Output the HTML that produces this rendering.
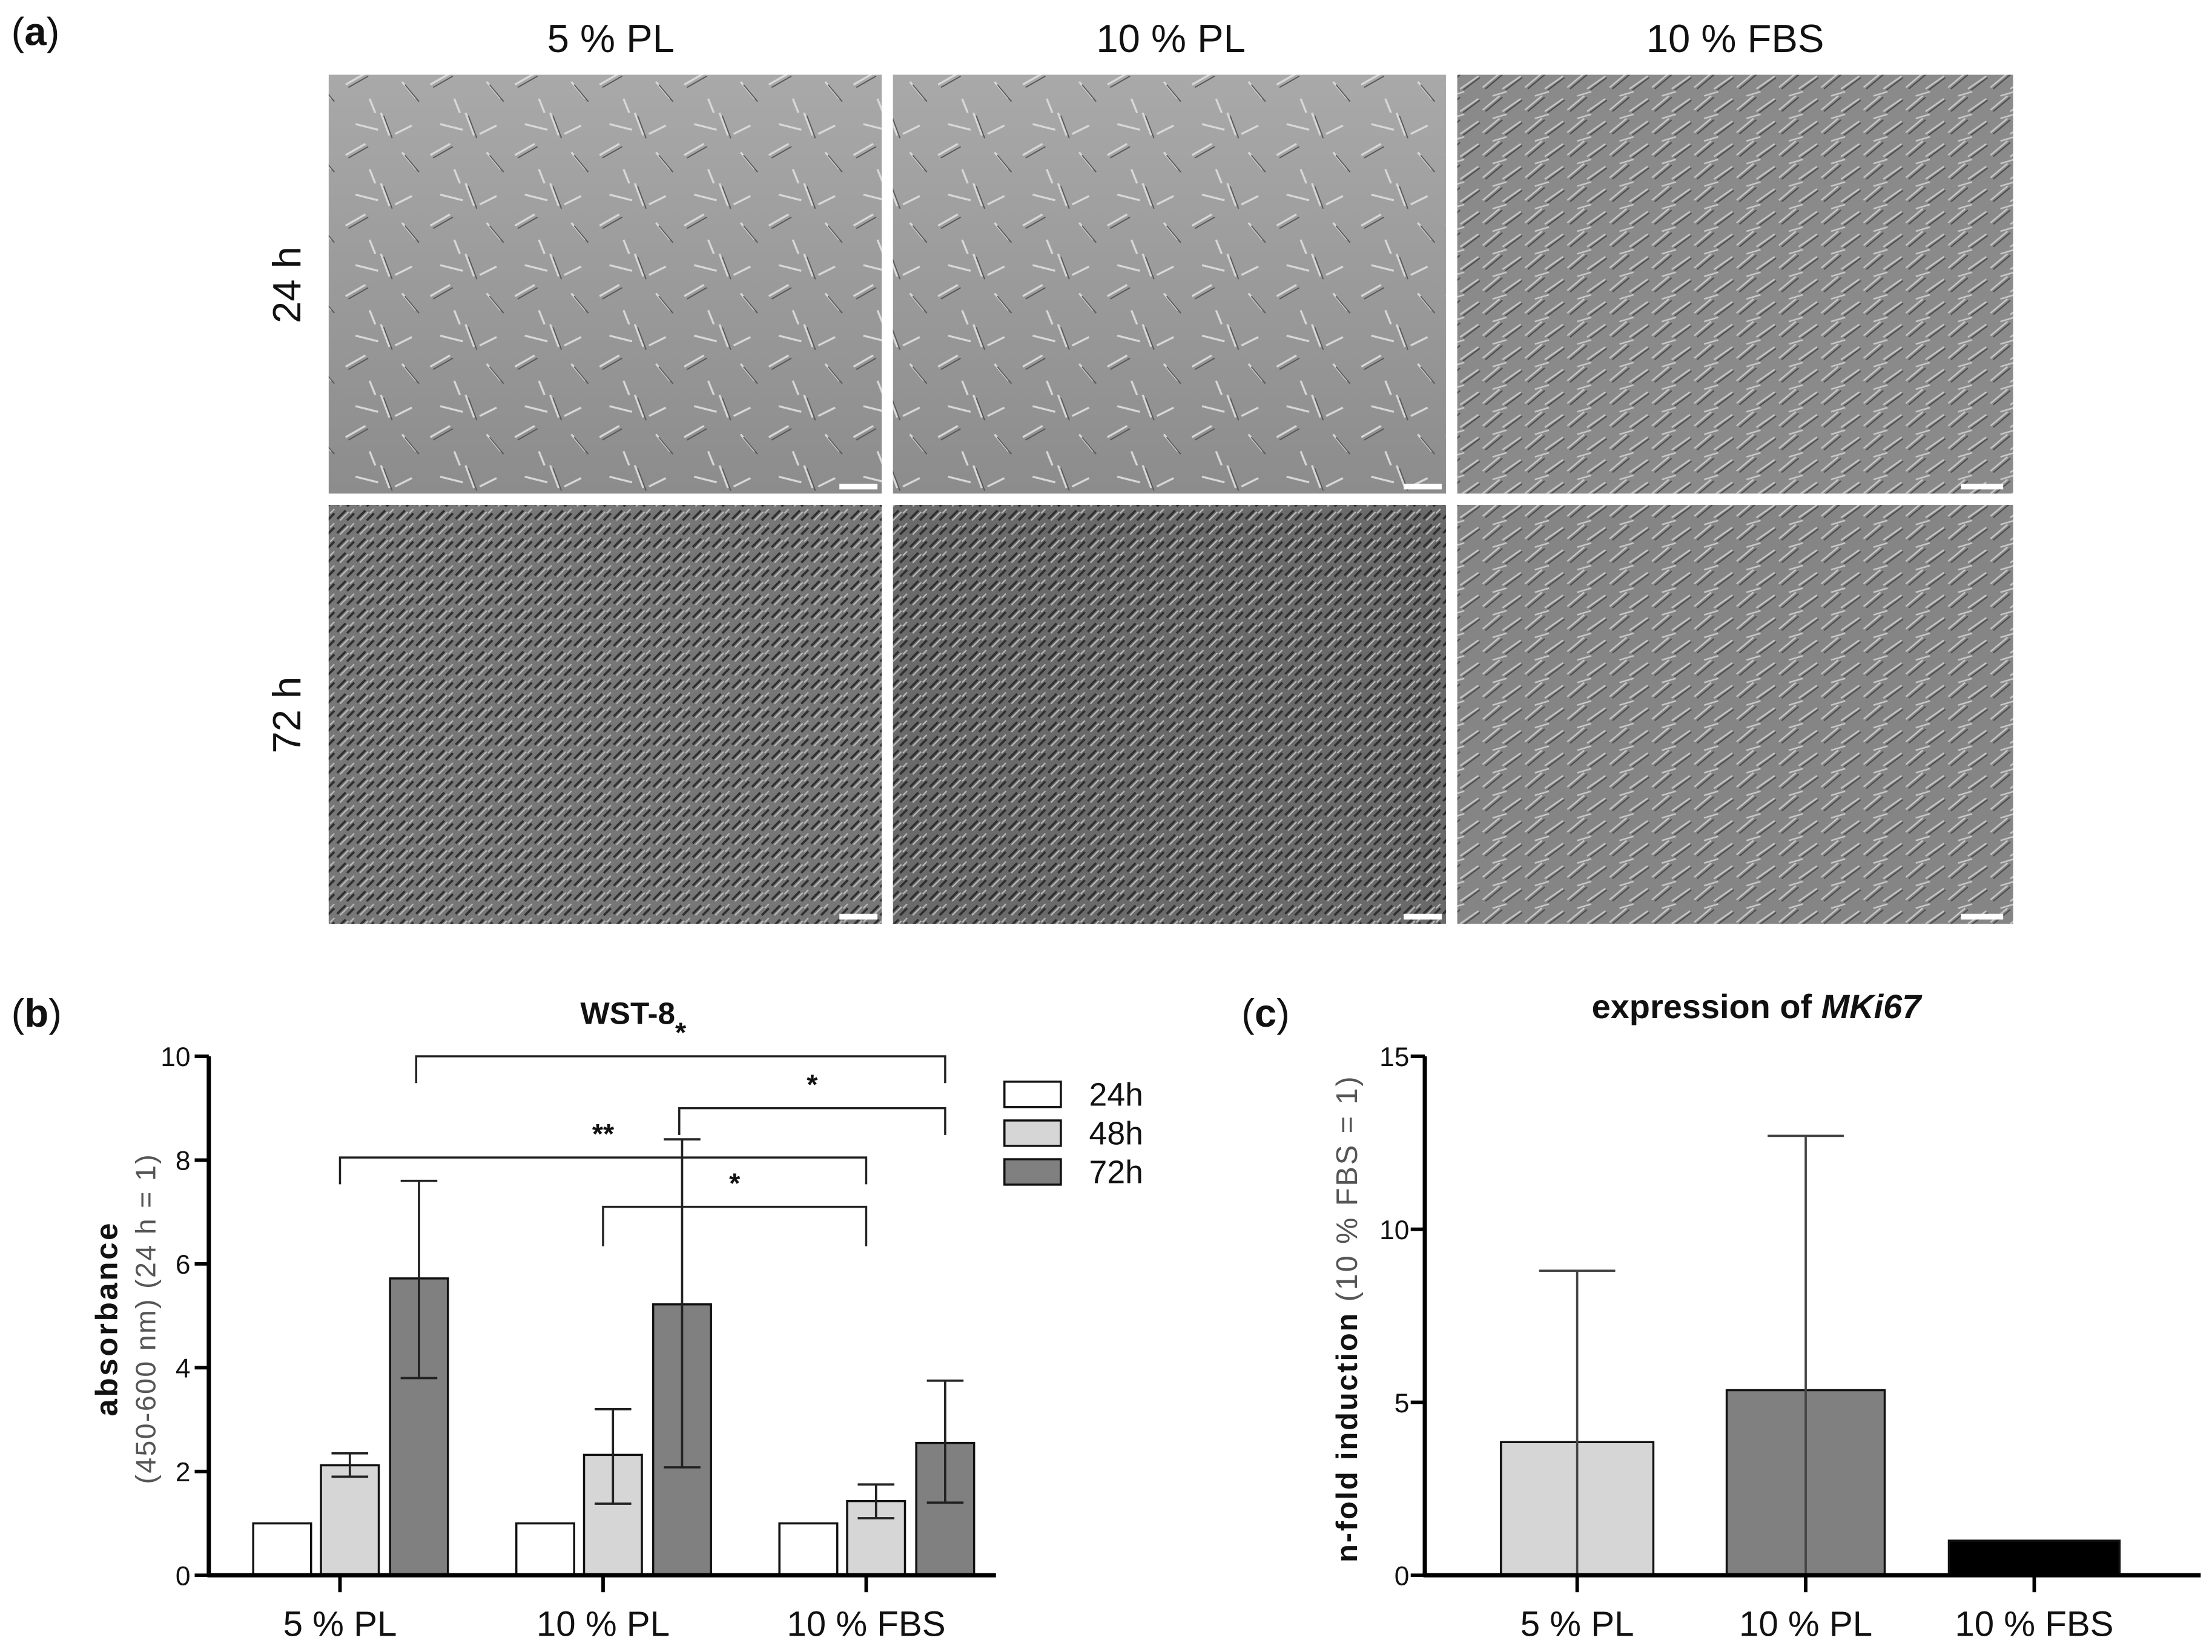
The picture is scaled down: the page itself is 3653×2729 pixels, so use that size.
<!DOCTYPE html>
<html><head><meta charset="utf-8"><style>
html,body{margin:0;padding:0;background:#fff}
svg{display:block}
text{font-family:"Liberation Sans",sans-serif;fill:#111}
.n{font-family:"Liberation Sans Narrow","Liberation Sans",sans-serif}
</style></head><body>
<svg id="fig" width="3653" height="2729" viewBox="0 0 1568 1171.4" xmlns="http://www.w3.org/2000/svg">
<defs>
<pattern id="sparse" width="60" height="50" patternUnits="userSpaceOnUse">
<path d="M5 10 l14 -8 M30 30 l6 16 M45 8 l10 12 M12 38 l16 4 M40 45 l12 -6 M22 20 l4 10" stroke="#d8d8d8" stroke-width="1.4" fill="none"/>
<path d="M7 12 l14 -8 M32 32 l6 16 M47 10 l10 12" stroke="#555" stroke-width="0.8" fill="none"/>
</pattern>
<pattern id="dense" width="14" height="10" patternUnits="userSpaceOnUse">
<path d="M1 8 l6 -6 M8 9 l5 -5" stroke="#2e2e2e" stroke-width="1.6" fill="none"/>
<path d="M3 9 l6 -6 M10 4 l3 -3" stroke="#bbb" stroke-width="1" fill="none"/>
</pattern>
<pattern id="mid" width="30" height="16" patternUnits="userSpaceOnUse">
<path d="M1 14 l12 -10 M15 15 l13 -9 M8 4 l10 -3" stroke="#c8c8c8" stroke-width="1.1" fill="none"/>
<path d="M3 15 l12 -10 M17 16 l12 -9" stroke="#4a4a4a" stroke-width="0.9" fill="none"/>
</pattern>
<linearGradient id="g1" x1="0" y1="0" x2="0" y2="1"><stop offset="0" stop-color="#a9a9a9"/><stop offset="1" stop-color="#8c8c8c"/></linearGradient>
</defs>

<!-- Panel a -->
<text x="8" y="32" font-size="28">(<tspan font-weight="bold">a</tspan>)</text>
<g class="n" font-size="28" text-anchor="middle">
<text class="n" x="433" y="37">5 % PL</text>
<text class="n" x="830" y="37">10 % PL</text>
<text class="n" x="1230" y="37">10 % FBS</text>
</g>
<text x="213" y="202" font-size="28" text-anchor="middle" transform="rotate(-90 213 202)">24 h</text>
<text x="213" y="507" font-size="28" text-anchor="middle" transform="rotate(-90 213 507)">72 h</text>
<g>
<rect x="233" y="53" width="392" height="297" fill="url(#g1)"/>
<rect x="233" y="53" width="392" height="297" fill="url(#sparse)"/>
<rect x="633" y="53" width="392" height="297" fill="url(#g1)"/>
<rect x="633" y="53" width="392" height="297" fill="url(#sparse)"/>
<rect x="1033" y="53" width="394" height="297" fill="#8a8a8a"/>
<rect x="1033" y="53" width="394" height="297" fill="url(#mid)"/>
<rect x="233" y="358" width="392" height="297" fill="#777"/>
<rect x="233" y="358" width="392" height="297" fill="url(#dense)"/>
<rect x="633" y="358" width="392" height="297" fill="#6a6a6a"/>
<rect x="633" y="358" width="392" height="297" fill="url(#dense)"/>
<rect x="1033" y="358" width="394" height="297" fill="#858585"/>
<rect x="1033" y="358" width="394" height="297" fill="url(#mid)"/>
<g fill="#fff">
<rect x="595" y="343" width="27" height="4"/><rect x="995" y="343" width="27" height="4"/><rect x="1390" y="343" width="30" height="4"/>
<rect x="595" y="648" width="27" height="4"/><rect x="995" y="648" width="27" height="4"/><rect x="1390" y="648" width="30" height="4"/>
</g>
</g>

<!-- Panel b -->
<text x="8" y="728" font-size="28">(<tspan font-weight="bold">b</tspan>)</text>
<text class="n" x="445" y="726" font-size="22" font-weight="bold" text-anchor="middle">WST-8</text>
<g id="chartB"></g>
<text x="83" y="935" font-size="22" font-weight="bold" text-anchor="middle" letter-spacing="1.5" transform="rotate(-90 83 935)">absorbance</text>
<text x="110" y="935" font-size="20" text-anchor="middle" fill="#555" letter-spacing="1" transform="rotate(-90 110 935)" style="fill:#555">(450-600 nm) (24 h = 1)</text>

<!-- Panel c -->
<text x="880" y="728" font-size="28">(<tspan font-weight="bold">c</tspan>)</text>
<text class="n" x="1245" y="722" font-size="24" font-weight="bold" text-anchor="middle">expression of <tspan font-style="italic">MKi67</tspan></text>
<g id="chartC"></g>
<text x="962" y="935" font-size="21" text-anchor="middle" letter-spacing="1.2" transform="rotate(-90 962 935)"><tspan font-weight="bold">n-fold induction</tspan> <tspan style="fill:#555">(10 % FBS = 1)</tspan></text>
</svg>
<script>
const NS="http://www.w3.org/2000/svg";
// Chart B data
const bGroups=["5 % PL","10 % PL","10 % FBS"];
const bSeries=["24h","48h","72h"];
const b24=[1,1,1];
const b48=[2.12,2.32,1.43];
const b72=[5.72,5.22,2.55];
const b48Lo=[1.9,1.38,1.1];
const b48Hi=[2.35,3.2,1.75];
const b72Lo=[3.8,2.08,1.4];
const b72Hi=[7.6,8.4,3.75];
const bTicks=[0,2,4,6,8,10];
const bSig=[["5 % PL","10 % FBS",2,10,"*"],["10 % PL","10 % FBS",2,9,"*"],["5 % PL","10 % FBS",0,8.05,"**"],["10 % PL","10 % FBS",0,7.1,"*"]];
// Chart C data
const cGroups=["5 % PL","10 %  PL","10 % FBS"];
const cVals=[3.85,5.35,1.0];
const cHi=[8.8,12.7,1.0];
const cTicks=[0,5,10,15];

function el(p,t,a,txt){const e=document.createElementNS(NS,t);for(const k in a)e.setAttribute(k,a[k]);if(txt!==undefined)e.textContent=txt;p.appendChild(e);return e;}

// Chart B
(function(){
const g=document.getElementById('chartB');
const x0=148,yb=1117,yt=749;
const yB=v=>yb-(yb-yt)*v/10;
const xB=i=>241+i*186.5;
const offs=[-41,7,56],bw=41;
const fills=["#fff","#d6d6d6","#808080"];
const vals=[b24,b48,b72];
bGroups.forEach((c,i)=>{
 vals.forEach((arr,s)=>{
  const r=el(g,'rect',{x:xB(i)+offs[s]-bw/2,y:yB(arr[i]),width:bw,height:yb-yB(arr[i]),fill:fills[s],stroke:'#111','stroke-width':1.5});
  
  
 });
 [[b48Lo,b48Hi,1],[b72Lo,b72Hi,2]].forEach(([lo,hi,s])=>{
  const cx=xB(i)+offs[s];
  const p=el(g,'path',{d:`M${cx} ${yB(lo[i])}V${yB(hi[i])}M${cx-13} ${yB(lo[i])}h26M${cx-13} ${yB(hi[i])}h26`,stroke:'#222','stroke-width':1.6,fill:'none'});
  
  
 });
 el(g,'line',{x1:xB(i),x2:xB(i),y1:yb,y2:yb+12,stroke:'#000','stroke-width':2.5});
 const t=el(g,'text',{x:xB(i),y:1160,'font-size':25,'text-anchor':'middle',class:'n'},c);
 
 
});
bTicks.forEach(v=>{
 el(g,'line',{x1:x0-10,x2:x0,y1:yB(v),y2:yB(v),stroke:'#000','stroke-width':2.5});
 const t=el(g,'text',{x:x0-13,y:yB(v)+7,'font-size':19,'text-anchor':'end',class:'n'},v);
 
 
});
el(g,'line',{x1:x0,x2:x0,y1:yt,y2:yb+1,stroke:'#000','stroke-width':3});
el(g,'line',{x1:x0-1,x2:706,y1:yb,y2:yb,stroke:'#000','stroke-width':3});
bSig.forEach(([a,b,s,v,lab],k)=>{
 const i1=bGroups.indexOf(a),i2=bGroups.indexOf(b);
 const xa=xB(i1)+offs[s]*(s===2?1:0)+(s===2?-2:0),xb2=xB(i2)+(s===2?offs[2]:0);
 const y=yB(v),leg=k===3?28:19;
 const p=el(g,'path',{d:`M${xa} ${y+leg}V${y}H${xb2}V${y+leg}`,stroke:'#222','stroke-width':1.5,fill:'none'});
 
 
 const t=el(g,'text',{x:(xa+xb2)/2,y:y-10,'font-size':20,'text-anchor':'middle','font-weight':'bold'},lab);
 
 
});
bSeries.forEach((s,i)=>{
 const y=767+i*27.5;
 const r=el(g,'rect',{x:712,y:y,width:40,height:18,fill:fills[i],stroke:'#111','stroke-width':1.5});
 
 
 const t=el(g,'text',{x:772,y:y+17,'font-size':23,class:'n'},s);
 
 
});
})();

// Chart C
(function(){
const g=document.getElementById('chartC');
const x0=1010,yb=1117,yt=749;
const yC=v=>yb-(yb-yt)*v/15;
const xC=i=>1118+i*162;
const bws=[108,112,121];
const fills=["#d6d6d6","#808080","#000"];
cGroups.forEach((c,i)=>{
 const r=el(g,'rect',{x:xC(i)-bws[i]/2,y:yC(cVals[i]),width:bws[i],height:yb-yC(cVals[i]),fill:fills[i],stroke:'#111','stroke-width':1.5});
 
 
 if(cHi[i]>cVals[i]){
  const p=el(g,'path',{d:`M${xC(i)} ${yb}V${yC(cHi[i])}M${xC(i)-27} ${yC(cHi[i])}h54`,stroke:'#444','stroke-width':1.6,fill:'none'});
  
  
 }
 el(g,'line',{x1:xC(i),x2:xC(i),y1:yb,y2:yb+12,stroke:'#000','stroke-width':2.5});
 const t=el(g,'text',{x:xC(i),y:1160,'font-size':25,'text-anchor':'middle',class:'n','xml:space':'preserve'},c);
 
 
});
cTicks.forEach(v=>{
 el(g,'line',{x1:x0-10,x2:x0,y1:yC(v),y2:yC(v),stroke:'#000','stroke-width':2.5});
 const t=el(g,'text',{x:x0-11,y:yC(v)+7,'font-size':19,'text-anchor':'end',class:'n'},v);
 
 
});
el(g,'line',{x1:x0,x2:x0,y1:yt,y2:yb+1,stroke:'#000','stroke-width':3});
el(g,'line',{x1:x0-1,x2:1560,y1:yb,y2:yb,stroke:'#000','stroke-width':3});
})();
</script>
</body></html>
